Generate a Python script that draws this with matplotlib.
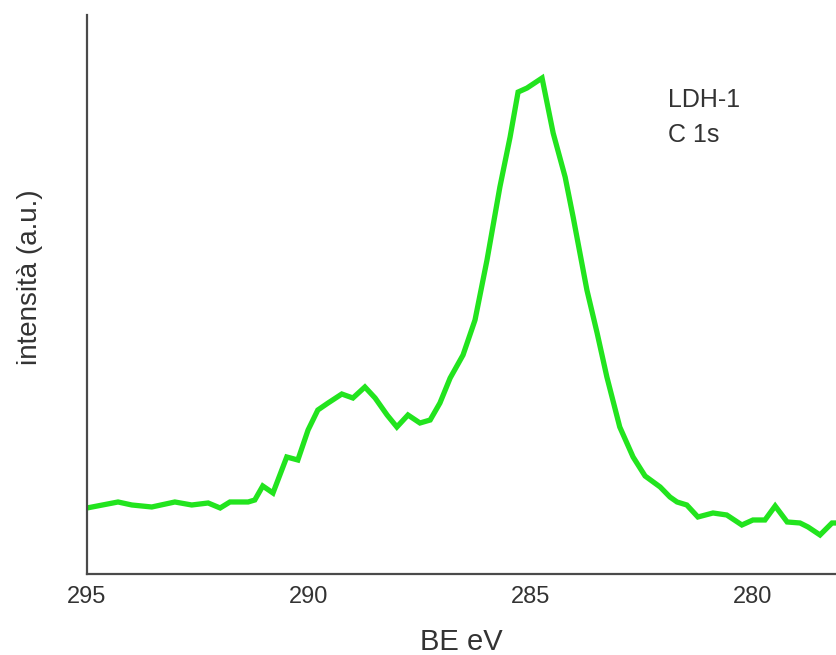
import numpy as np
import matplotlib
matplotlib.use("Agg")
import matplotlib.pyplot as plt

plt.rcParams["font.family"] = ["Liberation Sans", "DejaVu Sans"]

# ── Données ───────────────────────────────────────────────────
be_ev = [295.00, 294.30, 293.99, 293.54, 293.02, 292.64, 292.27, 292.00,
         291.78, 291.37, 291.22, 291.04, 290.81, 290.50, 290.25, 290.02,
         289.80, 289.57, 289.26, 289.01, 288.74, 288.51, 288.24, 288.02,
         287.77, 287.50, 287.27, 287.05, 286.82, 286.53, 286.26, 285.99,
         285.70, 285.47, 285.29, 285.09, 284.75, 284.50, 284.23, 284.05,
         283.74, 283.51, 283.29, 283.00, 282.70, 282.43, 282.09, 281.87,
         281.71, 281.49, 281.24, 280.90, 280.59, 280.25, 280.00, 279.73,
         279.50, 279.23, 278.94, 278.76, 278.49, 278.22, 278.13]
intensity = [66, 72, 69, 67, 72, 69, 71, 66,
             72, 72, 74, 88, 81, 117, 114, 144,
             164, 171, 180, 176, 187, 176, 159, 147,
             159, 151, 154, 171, 196, 219, 254, 314,
             387, 437, 482, 486, 496, 441, 397, 357,
             284, 241, 197, 147, 117, 98, 87, 77,
             72, 69, 57, 61, 59, 49, 54, 54,
             68, 52, 51, 47, 39, 51, 51]
x_ticks = [295, 290, 285, 280]
labels = ["LDH-1", "C 1s"]

# ── Figure ────────────────────────────────────────────────────
fig = plt.figure(figsize=(8.36, 6.55), dpi=100)
ax = fig.add_axes([0.104, 0.1237, 0.896, 0.8533])

ax.plot(be_ev, intensity, color="#22e41e", lw=3.8, solid_joinstyle="miter")

ax.set_xlim(295, 278.13)
ax.set_ylim(0, 559)
ax.set_xticks(x_ticks)
ax.set_yticks([])
ax.tick_params(axis="x", length=0, pad=9, labelsize=17, colors="#333333")

for side in ["top", "right"]:
    ax.spines[side].set_visible(False)
for side in ["left", "bottom"]:
    ax.spines[side].set_color("#4a4a4a")
    ax.spines[side].set_linewidth(1.6)

ax.set_xlabel("BE eV", fontsize=21, color="#333333")
ax.xaxis.set_label_coords(0.5, -0.097)
ax.set_ylabel("intensità (a.u.)", fontsize=20, color="#333333", va="center")
ax.yaxis.set_label_coords(-0.076, 0.531)

# Annotation en haut à droite
fig.text(668 / 836, 1 - 100 / 655, labels[0], fontsize=18, color="#333333",
         ha="left", va="center")
fig.text(668 / 836, 1 - 135 / 655, labels[1], fontsize=18, color="#333333",
         ha="left", va="center")

fig.savefig("out.png", dpi=100)
